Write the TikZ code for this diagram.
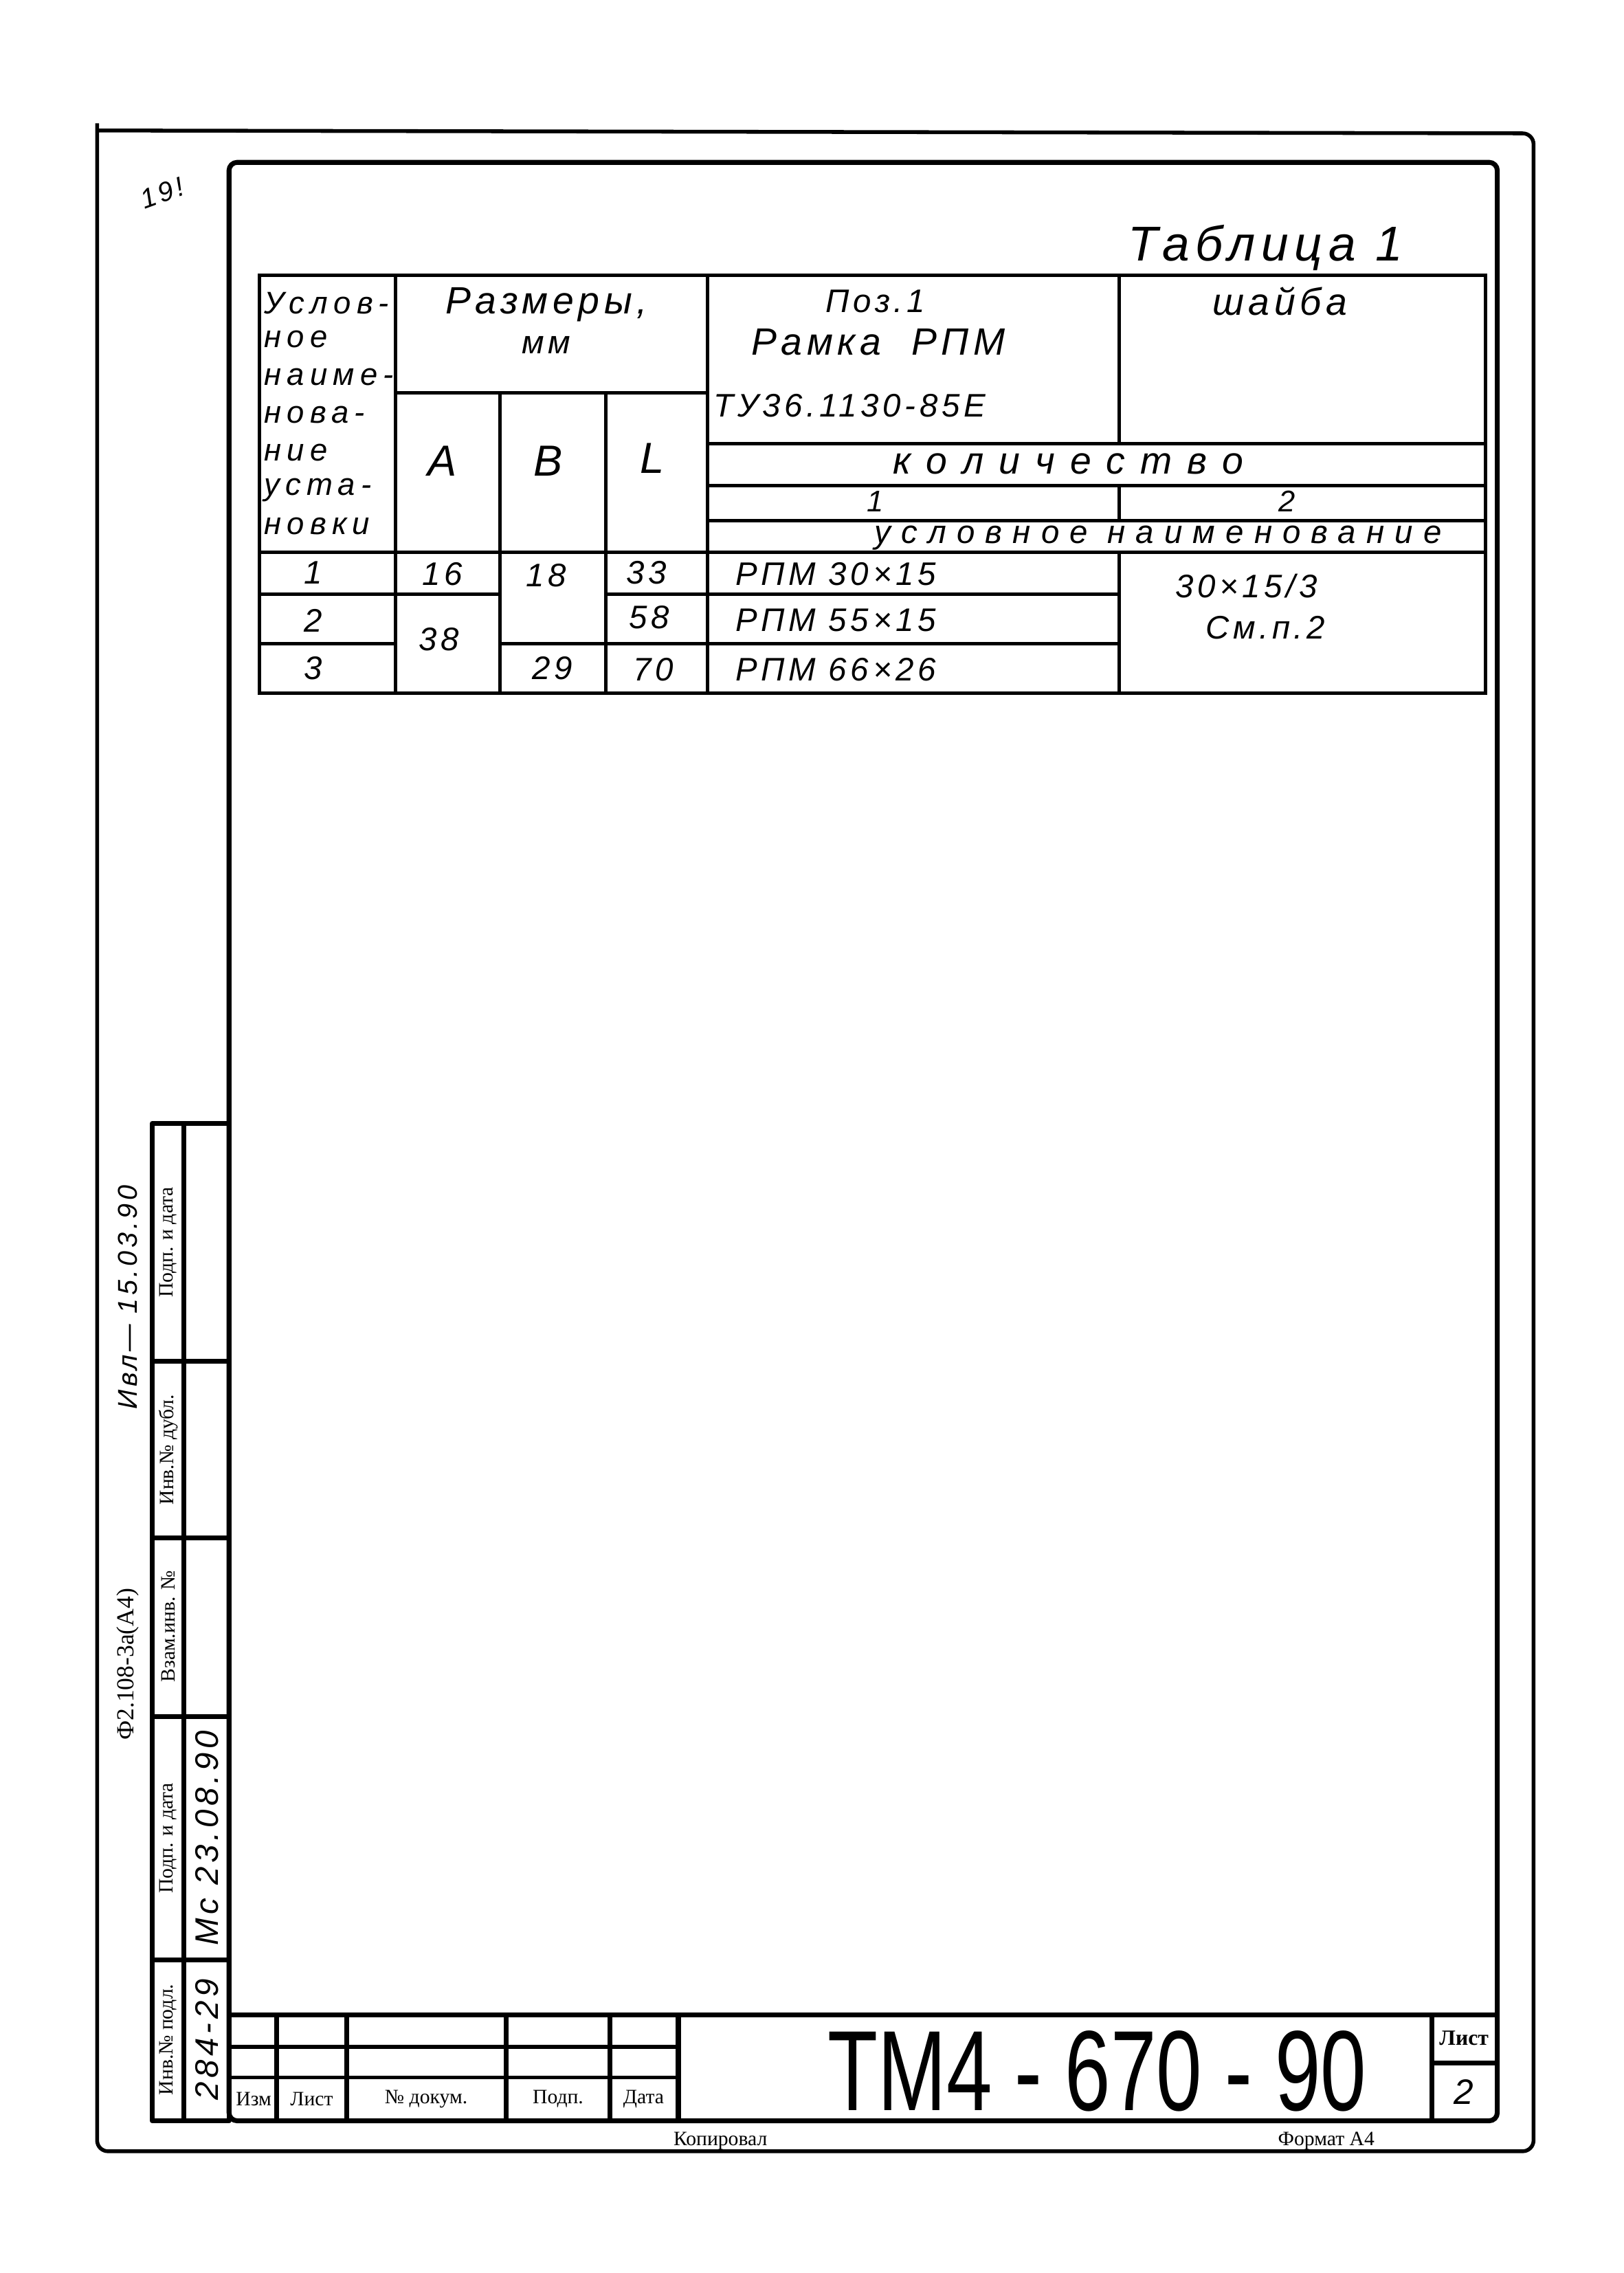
\documentclass[tikz,border=0pt]{standalone}
\usepackage{fontspec}
\setmainfont{Liberation Serif}
\newfontfamily\handfont[LetterSpace=12]{Liberation Sans}
\newfontfamily\gostfont{Liberation Sans}
\usetikzlibrary{positioning}

\tikzset{
  hand/.style={font=\handfont\itshape\fontsize{12}{13}\selectfont, inner sep=0pt},
  head/.style={font=\handfont\itshape\fontsize{11.5}{12}\selectfont\addfontfeature{LetterSpace=18}, inner sep=0pt, anchor=west},
  print/.style={font=\fontsize{7.5}{8}\selectfont, inner sep=0pt},
  edge line/.style={line width=1.4pt, line join=round},
  frame line/.style={line width=1.8pt, line join=round},
  grid line/.style={line width=1.3pt},
}

\begin{document}
\begin{tikzpicture}[x=0.1875mm,y=-0.1875mm]
\useasboundingbox (0,0) rectangle (1120,1568);

% sheet edge and frame
\draw[edge line, rounded corners=4pt] (67,85) -- (67,1484) -- (1058,1484) -- (1058,92) -- (67,90);
\draw[frame line, rounded corners=3pt] (158,112) rectangle (1033,1463);

% left stamp strip
\draw[frame line] (105,775) rectangle (158,1463);
\draw[frame line] (127,775) -- (127,1463);
\foreach \y in {939,1061,1184,1352}
  \draw[frame line] (105,\y) -- (158,\y);
\node[print, rotate=90] (podl) at (116,1407) {Инв.№ подл.};
\node[print, rotate=90] (sign2) at (116,1268) {Подп. и дата};
\node[print, rotate=90] (vzam) at (116,1122) {Взам.инв. №};
\node[print, rotate=90] (dubl) at (116,1000) {Инв.№ дубл.};
\node[print, rotate=90] (sign1) at (116,857) {Подп. и дата};
\node[hand, rotate=90] (invno) at (143,1407) {284-29};
\node[hand, rotate=90] (sigdate) at (143,1268) {Мс 23.08.90};
\node[font=\fontsize{9}{10}\selectfont, inner sep=0pt, rotate=90] (form) at (88,1148) {Ф2.108-3а(А4)};
\node[hand, font=\handfont\itshape\fontsize{10}{11}\selectfont, rotate=90] (visa) at (88,895) {Ивл— 15.03.90};
\node[hand, font=\handfont\itshape\fontsize{10}{11}\selectfont, rotate=20] (mark) at (112,133) {19!};

% title block
\draw[frame line] (158,1390) -- (1033,1390);
\draw[grid line] (158,1412) -- (468,1412);
\draw[grid line] (158,1433) -- (468,1433);
\foreach \x in {191,239,349,421,468}
  \draw[frame line] (\x,1390) -- (\x,1463);
\draw[frame line] (988,1390) -- (988,1463);
\draw[frame line] (988,1423) -- (1033,1423);
\node[print] (izm) at (175,1448) {Изм};
\node[print] (list) at (215,1448) {Лист};
\node[print] (dokum) at (294,1448) {№ докум.};
\node[print] (podp) at (385,1448) {Подп.};
\node[print] (data) at (444,1448) {Дата};
\node[font=\gostfont\fontsize{42}{42}\selectfont, inner sep=0pt, text height=30pt, text depth=0pt, xscale=0.72, anchor=base] (code) at (757,1456) {ТМ4 - 670 - 90};
\node[print, font=\bfseries\fontsize{8}{9}\selectfont] (sheet) at (1010,1406) {Лист};
\node[hand, font=\handfont\itshape\fontsize{13}{14}\selectfont] (sheetno) at (1010,1443) {2};
\node[print] (copy) at (497,1477) {Копировал};
\node[print] (fmt) at (915,1477) {Формат А4};

% table 1
\node[hand, font=\handfont\itshape\fontsize{18}{20}\selectfont] (title) at (873,171) {Таблица 1};
\draw[grid line] (179,190) rectangle (1025,478);
\draw[grid line] (179,381) -- (1025,381);
\draw[grid line] (273,190) -- (273,478);
\draw[grid line] (488,190) -- (488,478);
\draw[grid line] (345,271) -- (345,478);
\draw[grid line] (418,271) -- (418,478);
\draw[grid line] (772,190) -- (772,306);
\draw[grid line] (772,335) -- (772,359);
\draw[grid line] (772,381) -- (772,478);
\draw[grid line] (273,271) -- (488,271);
\draw[grid line] (488,306) -- (1025,306);
\draw[grid line] (488,335) -- (1025,335);
\draw[grid line] (488,359) -- (1025,359);
\draw[grid line] (179,410) -- (345,410);
\draw[grid line] (418,410) -- (772,410);
\draw[grid line] (179,444) -- (273,444);
\draw[grid line] (345,444) -- (772,444);

% header
\node[head] (h1) at (182,209) {Услов-};
\node[head] (h2) at (182,234) {ное};
\node[head] (h3) at (182,260) {наиме-};
\node[head] (h4) at (182,286) {нова-};
\node[head] (h5) at (182,312) {ние};
\node[head] (h6) at (182,338) {уста-};
\node[head] (h7) at (182,363) {новки};
\node[hand, font=\handfont\itshape\fontsize{14}{15}\selectfont] (razm) at (377,210) {Размеры,};
\node[hand, below=5pt of razm] (mm) {мм};
\node[hand, font=\handfont\itshape\fontsize{16}{17}\selectfont] (colA) at (305,318) {A};
\node[hand, font=\handfont\itshape\fontsize{16}{17}\selectfont] (colB) at (378,318) {B};
\node[hand, font=\handfont\itshape\fontsize{16}{17}\selectfont] (colL) at (450,316) {L};
\node[hand] (poz) at (604,208) {Поз.1};
\node[hand, font=\handfont\itshape\fontsize{14}{15}\selectfont] (ramka) at (606,236) {Рамка~~РПМ};
\node[hand, anchor=west] (tu) at (492,280) {ТУ36.1130-85Е};
\node[hand, font=\handfont\itshape\fontsize{14}{15}\selectfont] (shaiba) at (883,208) {шайба};
\node[hand, font=\handfont\itshape\fontsize{14}{15}\selectfont] (kol) at (737,320) {к о л и ч е с т в о};
\node[hand, font=\handfont\itshape\fontsize{11}{12}\selectfont] (q1) at (604,346) {1};
\node[hand, font=\handfont\itshape\fontsize{11}{12}\selectfont] (q2) at (888,346) {2};
\node[hand, font=\handfont\itshape\fontsize{12}{13}\selectfont\addfontfeature{LetterSpace=32}] (uslnaim) at (799,371) {условное наименование};

% rows
\node[hand] (r1) at (216,395) {1};
\node[hand] (a1) at (305,396) {16};
\node[hand] (b1) at (377,397) {18};
\node[hand] (l1) at (446,395) {33};
\node[hand, anchor=west] (p1) at (507,396) {РПМ 30×15};
\node[hand] (r2) at (216,428) {2};
\node[hand] (a2) at (303,441) {38};
\node[hand] (l2) at (448,426) {58};
\node[hand, anchor=west] (p2) at (507,428) {РПМ 55×15};
\node[hand] (r3) at (216,461) {3};
\node[hand] (b3) at (381,461) {29};
\node[hand] (l3) at (451,462) {70};
\node[hand, anchor=west] (p3) at (507,462) {РПМ 66×26};
\node[hand] (w1) at (860,404) {30×15/3};
\node[hand] (w2) at (873,433) {См.п.2};
\end{tikzpicture}
\end{document}
